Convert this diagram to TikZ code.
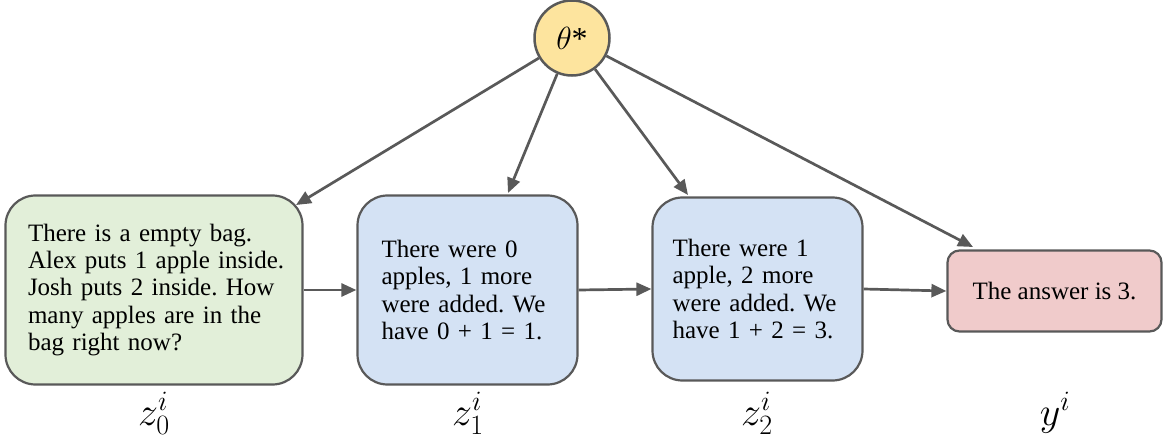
\RequirePackage{fix-cm}
\documentclass[tikz,border=0pt]{standalone}
\usepackage{fontspec}
\setmainfont{Liberation Serif}
\usetikzlibrary{arrows.meta}
\definecolor{edgegray}{HTML}{595959}
\definecolor{boxgreen}{HTML}{E2EFD9}
\definecolor{boxblue}{HTML}{D4E2F4}
\definecolor{boxpink}{HTML}{F0CBCB}
\definecolor{nodeyellow}{HTML}{FDE49E}
\newcommand{\tline}[1]{\mbox{#1}}
\frenchspacing
\begin{document}
\begin{tikzpicture}[x=1pt,y=1pt,
  box/.style={draw=edgegray, line width=2.2pt, rounded corners=30pt, align=left,
    font=\fontsize{25}{27.3}\selectfont\frenchspacing, inner ysep=0pt, inner xsep=0pt},
  arr/.style={draw=edgegray, line width=2.7pt, -{Triangle[length=15pt,width=13pt]}},
  lab/.style={font=\fontsize{40}{42}\selectfont, anchor=base, inner sep=0pt}]
\useasboundingbox (0,0) rectangle (1163,440);

\node[box, fill=boxgreen, minimum width=297pt, minimum height=189pt, text width=252pt] (b1) at (154,150)
  {\tline{There is a empty bag.}\\\tline{Alex puts 1 apple inside.}\\\tline{Josh puts 2 inside. How}\\\tline{many apples are in the}\\\tline{bag right now?}};
\node[box, fill=boxblue, minimum width=220pt, minimum height=189pt, text width=172pt] (b2) at (467.5,150)
  {\tline{There were 0}\\\tline{apples, 1 more}\\\tline{were added. We}\\\tline{have 0 + 1 = 1.}};
\node[box, fill=boxblue, minimum width=210pt, minimum height=183pt, text width=170pt] (b3) at (757.5,151)
  {\tline{There were 1}\\\tline{apple, 2 more}\\\tline{were added. We}\\\tline{have 1 + 2 = 3.}};
\node[box, fill=boxpink, rounded corners=12pt, align=center, minimum width=214pt, minimum height=81pt] (b4) at (1054.5,149)
  {The answer is 3.};

\node[circle, draw=edgegray, line width=2.5pt, fill=nodeyellow, minimum size=75pt, inner sep=0pt,
  font=\fontsize{32}{32}\selectfont] (theta) at (572,402) {$\theta$*};

\coordinate (t1) at (296,235);
\coordinate (t2) at (508,247);
\coordinate (t3) at (688,245);
\coordinate (t4) at (973,193);

\draw[arr] (theta) -- (t1);
\draw[arr] (theta) -- (t2);
\draw[arr] (theta) -- (t3);
\draw[arr] (theta) -- (t4);

\draw[arr] (b1.east) -- (b2.west);
\draw[arr] (b2.east) -- (b3.west);
\draw[arr] (b3.east) -- (b4.west);

\node[lab] (l0) at (154,15) {$z_0^i$};
\node[lab] (l1) at (468,15) {$z_1^i$};
\node[lab] (l2) at (757,15) {$z_2^i$};
\node[lab] (l3) at (1055,15) {$y^i$};
\end{tikzpicture}
\end{document}
